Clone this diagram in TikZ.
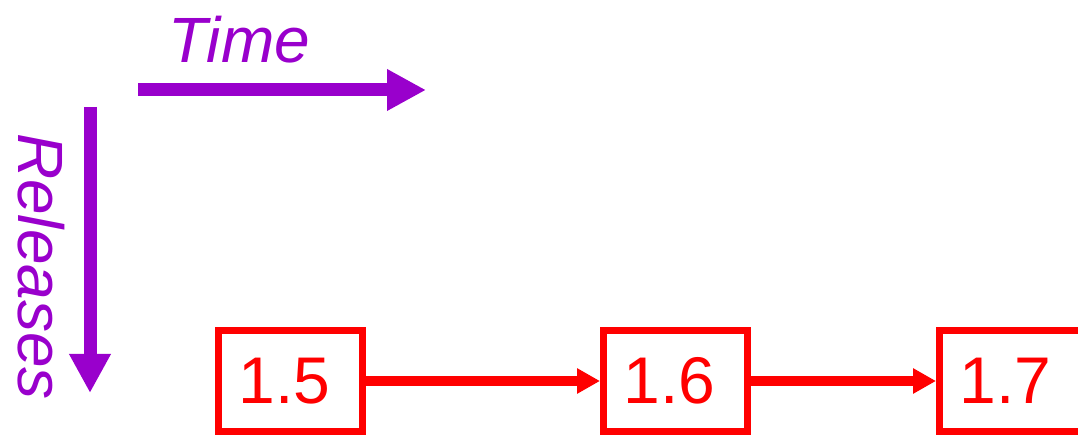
\documentclass[tikz,border=0pt]{standalone}
\usepackage{fontspec}
\setmainfont{Liberation Sans}
\usetikzlibrary{arrows.meta,positioning}
\definecolor{axispurple}{RGB}{153,0,204}
\tikzset{
  axisarrow/.style={-{Triangle[length=39pt,width=39pt]}, line width=13pt, axispurple},
  axislabel/.style={axispurple, inner sep=0pt, font=\fontsize{64}{70}\selectfont\itshape},
  verbox/.style={draw=red, text=red, line width=7pt, minimum width=144pt, minimum height=101pt,
    inner xsep=20pt, text width=104pt, align=left, font=\fontsize{66}{72}\selectfont},
  nextver/.style={-{Triangle[length=23pt,width=24pt]}, line width=10pt, red}
}
\begin{document}
\begin{tikzpicture}[x=1pt,y=1pt]
\clip (0,0) rectangle (1078,435);
% Axes
\coordinate (t0) at (138,345);
\coordinate (t1) at (426,345);
\draw[axisarrow] (t0) -- (t1);
\node[axislabel, anchor=base west] (time) at (168,372) {Time};
\coordinate (r0) at (90,328);
\coordinate (r1) at (90,42);
\draw[axisarrow] (r0) -- (r1);
\node[axislabel, rotate=-90, anchor=base west] (rel) at (18,302) {Releases};
% Versions
\node[verbox] (v15) at (290.5,54) {1.5};
\node[verbox, right=234pt of v15] (v16) {1.6};
\node[verbox, right=185pt of v16] (v17) {1.7};
\draw[nextver] (v15) -- (v16);
\draw[nextver] (v16) -- (v17);
\end{tikzpicture}
\end{document}
